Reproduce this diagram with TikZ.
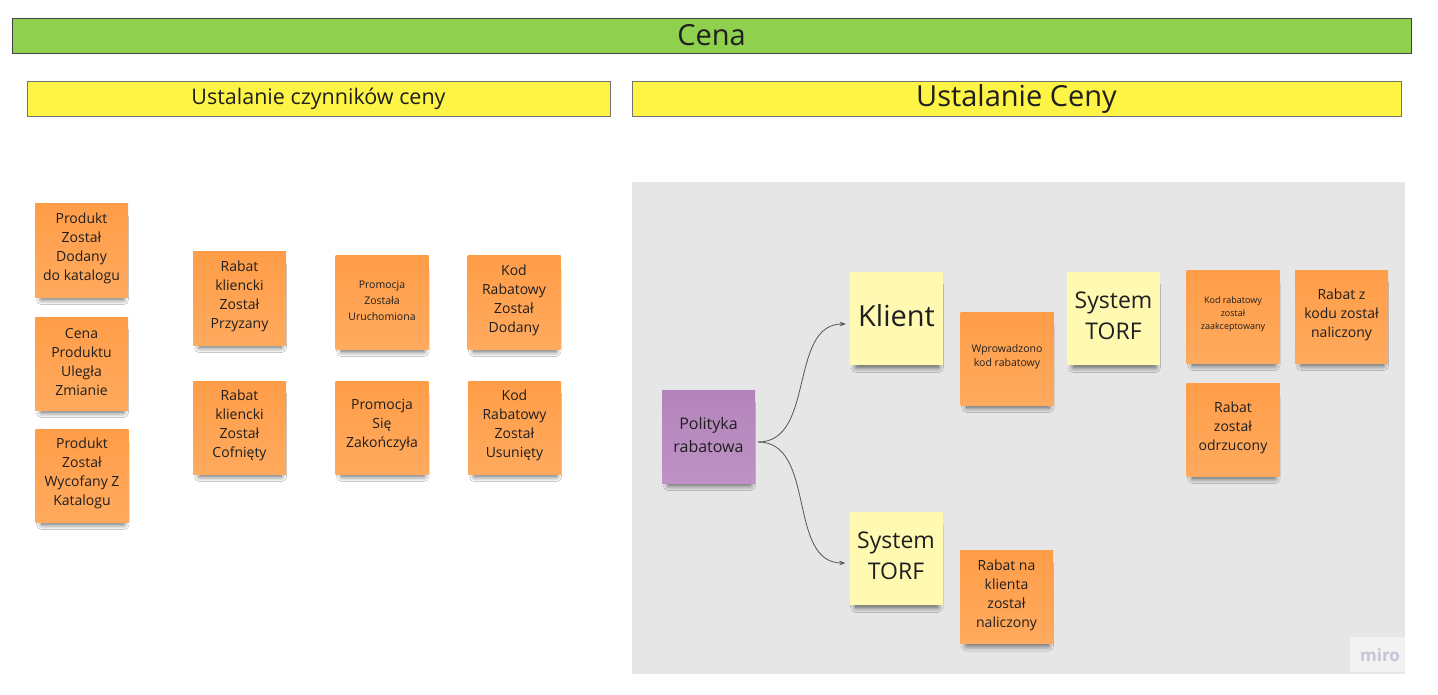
\documentclass[tikz,border=0pt]{standalone}
\usepackage{fontspec}
\setmainfont{Open Sans}
\usetikzlibrary{arrows.meta,shadows.blur,calc}
\definecolor{barGreen}{HTML}{8FD14F}
\definecolor{barYellow}{HTML}{FEF445}
\definecolor{noteOrange}{HTML}{FF9D48}
\definecolor{noteOrangeLight}{HTML}{FFAA5E}
\definecolor{noteYellow}{HTML}{FFF9B1}
\definecolor{notePurple}{HTML}{B384BB}
\definecolor{notePurpleLight}{HTML}{BE92C5}
\definecolor{areaGray}{HTML}{E6E6E6}
\definecolor{inkDark}{HTML}{1F1F1F}
\definecolor{lineGray}{HTML}{555555}
\definecolor{miroText}{HTML}{C5C5D8}
\newcommand{\stick}[5]{\node[#1,label={[notetxt,#2]center:{#5}}] (#3) at (#4) {};}
\begin{document}
\begin{tikzpicture}[x=1pt,y=-1pt,
  stickynote/.style={minimum width=93pt,minimum height=93pt,inner sep=0pt,
    blur shadow={shadow xshift=1pt,shadow yshift=-9pt,shadow scale=0.88,shadow blur radius=6pt,shadow blur steps=12,shadow opacity=65}},
  notetxt/.style={align=center,text=inkDark,inner sep=0pt,yshift=2pt},
  orangenote/.style={stickynote,top color=noteOrange,bottom color=noteOrangeLight},
  yellownote/.style={stickynote,fill=noteYellow},
  purplenote/.style={stickynote,top color=notePurple,bottom color=notePurpleLight},
  otxt/.style={font=\fontsize{14}{19}\selectfont},
  ytxt/.style={font=\fontsize{23}{31}\selectfont,yshift=1pt},
  barbox/.style={inner sep=0pt,minimum height=35pt,line width=0.9pt,text=inkDark},
  link/.style={draw=lineGray,line width=0.8pt,-{Stealth[length=6pt,width=4.5pt]}}
]
\useasboundingbox (0,0) rectangle (1438,695);
\fill[white] (0,0) rectangle (1438,695);

% header bars
\node[barbox,draw=inkDark!85,fill=barGreen,minimum width=1399pt,font=\fontsize{29}{32}\selectfont] (cena) at (711.5,35.5) {Cena};
\node[barbox,draw=black!55,fill=barYellow,minimum width=583pt,font=\fontsize{21.5}{24}\selectfont] (czynniki) at (318.5,98.5) {Ustalanie czynników ceny};
\node[barbox,draw=black!55,fill=barYellow,minimum width=769pt,font=\fontsize{29}{32}\selectfont] (ustalanie) at (1016.5,98.5) {Ustalanie Ceny};

% gray area
\fill[areaGray] (632,182) rectangle (1405,674);
\fill[black!5] (1350,637) rectangle (1405,672);
\node[text=miroText,font=\fontsize{17}{20}\selectfont\bfseries,anchor=west,inner sep=0pt] (miro) at (1360,655) {miro};

% left notes
\stick{orangenote}{otxt}{n1}{81.5,250.5}{Produkt\\Został\\Dodany\\do katalogu}
\stick{orangenote}{otxt}{n2}{81.5,363.5}{Cena\\Produktu\\Uległa\\Zmianie}
\stick{orangenote}{otxt}{n3}{82,475.5}{Produkt\\Został\\Wycofany Z\\Katalogu}
\stick{orangenote}{otxt}{n4}{239.5,298.5}{Rabat\\kliencki\\Został\\Przyzany}
\stick{orangenote}{otxt}{n5}{239.5,427.5}{Rabat\\kliencki\\Został\\Cofnięty}
\stick{orangenote}{font=\fontsize{10.5}{16}\selectfont}{n6}{382,302.5}{Promocja\\Została\\Uruchomiona}
\stick{orangenote}{otxt}{n7}{382,427.5}{Promocja\\Się\\Zakończyła}
\stick{orangenote}{otxt}{n8}{514,302.5}{Kod\\Rabatowy\\Został\\Dodany}
\stick{orangenote}{otxt}{n9}{514.5,427.5}{Kod\\Rabatowy\\Został\\Usunięty}

% right side
\stick{purplenote}{font=\fontsize{16}{23}\selectfont}{pol}{708.5,436.5}{Polityka\\rabatowa}
\stick{yellownote}{font=\fontsize{29}{32}\selectfont,yshift=1pt}{klient}{896.5,318.5}{Klient}
\stick{yellownote}{ytxt}{torfA}{896,558.5}{System\\TORF}
\stick{orangenote}{font=\fontsize{10.5}{14}\selectfont}{wprow}{1007,358.5}{Wprowadzono\\kod rabatowy}
\stick{orangenote}{otxt}{rnk}{1006.5,597}{Rabat na\\klienta\\został\\naliczony}
\stick{yellownote}{ytxt}{torfB}{1113.5,318.5}{System\\TORF}
\stick{orangenote}{font=\fontsize{9}{13}\selectfont}{zaak}{1233,316.5}{Kod rabatowy\\został\\zaakceptowany}
\stick{orangenote}{otxt}{rzk}{1341.5,316.5}{Rabat z\\kodu został\\naliczony}
\stick{orangenote}{otxt}{odrz}{1233,429.5}{Rabat\\został\\odrzucony}

% connectors
\draw[link] ($(pol.east)+(3,5.5)$) to[out=0,in=180] ($(klient.west)+(-4,5.5)$);
\draw[link] ($(pol.east)+(3,5.5)$) to[out=0,in=180] ($(torfA.west)+(-4,4.5)$);
\end{tikzpicture}
\end{document}
